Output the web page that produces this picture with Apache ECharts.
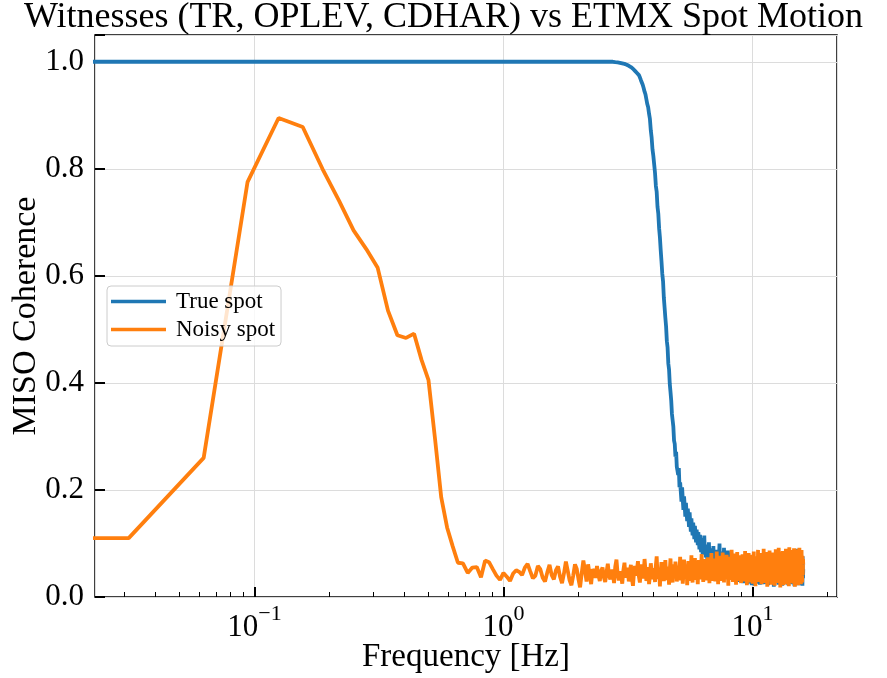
<!DOCTYPE html>
<html><head><meta charset="utf-8">
<script src="https://cdn.jsdelivr.net/npm/echarts@6/dist/echarts.min.js"></script>
<style>html,body{margin:0;padding:0;background:#fff}#c{width:887px;height:678px}</style>
</head><body><div id="c"></div>
<script>
// frequency resolution of the spectra [Hz]; sample k sits at k*DF
const DF = 1 / 32;
// stand-in frequency for the 0 Hz bin (0 cannot be drawn on a log axis; it is clipped off-axis)
const dcProxyFreq = 0.001;
const trueSpotDC = 1.0;
const noisySpotDC = 0.11;

// "True spot" coherence, samples k = 1..512
const trueSpot = [
1,1,1,1,1,1,1,1,1,1, 1,1,1,1,1,1,1,1,1,1, 1,1,1,1,1,1,1,1,1,1, 1,1,1,1,1,1,1,1,1,1,
1,1,1,1,1,1,1,1,1,1, 1,1,1,1,1,1,1,1,1,1, 1,1,1,1,1,1,1,1,1,1, 1,1,1,1,1,1,1,1,1,1,
1,1,1,1,1,1,1,
1.000,0.9995,0.9993,0.999,0.9988,0.9985,0.998,0.9975,0.997,
0.9965,0.996,0.995,0.9945,0.9935,0.9925,0.991,0.990,0.988,0.987,0.985,0.983,0.981,0.979,0.977,0.975,
0.971,0.966,0.963,0.957,0.951,0.944,0.939,0.930,0.921,0.915,0.903,0.893,0.872,0.858,0.836,0.824,
0.808,0.792,0.768,0.757,0.729,0.716,0.689,0.672,0.648,0.627,0.604,0.590,0.560,0.541,0.522,0.505,
0.478,0.466,0.436,0.425,0.398,0.383,0.367,0.342,0.330,0.318,0.292,0.286,0.262,0.271,0.243,0.236,
0.228,0.241,0.205,0.214,0.196,0.178,0.205,0.182,0.163,0.188,0.171,0.150,0.176,0.158,0.142,0.165,
0.149,0.131,0.158,0.140,0.122,0.147,0.128,0.115,0.139,0.124,0.108,0.133,0.117,0.102,0.126,0.113,
0.097,0.121,0.105,0.089,0.116,0.100,0.084,0.110,0.093,0.079,0.104,0.088,0.115,0.082,0.096,0.074,
0.098,0.083,0.069,0.094,0.078,0.102,0.072,0.087,0.063,0.091,0.076,0.060,0.085,0.070,0.095,0.066,
0.080,0.058,0.074,0.088,0.062,0.071,0.055,0.083,0.067,0.050,0.078,0.100,0.060,0.072,0.052,0.069,
0.085,0.057,0.048,0.074,0.063,0.092,0.054,0.045,0.070,0.061,0.039,0.078,0.056,0.047,0.087,0.052,
0.043,0.066,0.058,0.037,0.072,0.050,0.083,0.046,0.035,0.064,0.055,0.041,0.076,0.049,0.033,0.060,
0.052,0.079,0.040,0.030,0.063,0.047,0.071,0.038,0.056,0.028,0.067,0.045,0.035,0.074,0.043,0.053,
0.031,0.061,0.048,0.069,0.036,0.026,0.057,0.044,0.075,0.039,0.050,0.029,0.064,0.042,0.033,0.058,
0.046,0.024,0.067,0.037,0.053,0.030,0.071,0.041,0.027,0.056,0.048,0.035,0.062,0.022,0.044,0.051,
0.034,0.059,0.028,0.047,0.066,0.038,0.021,0.054,0.043,0.070,0.031,0.049,0.025,0.060,0.040,0.033,
0.057,0.029,0.045,0.068,0.036,0.052,0.023,0.041,0.063,0.032,0.048,0.074,0.027,0.055,0.038,0.046,
0.030,0.065,0.042,0.024,0.058,0.035,0.077,0.044,0.028,0.053,0.039,0.067,0.026,0.050,0.034,0.061,
0.043,0.022,0.056,0.037,0.072,0.031,0.048,0.060,0.025,0.045,0.081,0.036,0.054,0.029,0.066,0.040,
0.027,0.051,0.035,0.063,0.044,0.019,0.058,0.039,0.075,0.032,0.047,0.026,0.062,0.041,0.084,0.036,
0.053,0.028,0.068,0.042,0.031,0.057,0.023,0.046,0.071,0.037,0.055,0.030,0.079,0.043,0.025,0.061,
0.034,0.049,0.073,0.038,0.021,0.059,0.045,0.086,0.032,0.052,0.027,0.067,0.040,0.056,0.024,0.063,
0.047,0.033,0.078,0.041,0.058,0.026,0.070,0.044,0.030,0.089,0.050,0.036,0.064,0.022,0.054,0.039,
0.072,0.029,0.060,0.045,0.083,0.034,0.052,0.025,0.068,0.041,0.057,0.031,0.087,0.046,0.037,0.065,
0.024,0.055,0.042,0.076,0.033,0.061,0.048,0.020,0.070,0.038,0.082,0.044,0.029,0.063,0.051,0.035,
0.069,0.026,0.057,0.090,0.040,0.053,0.031,0.074,0.046,0.022,0.065,0.037,0.084,0.049,0.028,0.060,
0.043,0.079,0.034,0.056,0.025,0.088,0.047,0.039,0.068,0.030,0.058,0.021,0.076,0.045,0.035,0.052
];

// "Noisy spot" coherence, samples k = 1..512
const noisySpot = [
0.110,0.260,0.775,0.895,0.878,0.800,0.740,0.685,0.650,0.615,0.535,0.489,0.484,0.492,0.443,0.405,
0.295,0.186,0.130,0.095,0.064,0.063,0.045,0.055,0.056,0.037,0.068,0.065,0.052,0.040,0.032,0.045,
0.038,0.030,0.044,0.050,0.047,0.041,0.055,0.062,0.048,0.035,0.040,0.058,0.052,0.036,0.029,0.046,
0.060,0.041,0.033,0.050,0.057,0.038,0.026,0.044,0.066,0.049,0.031,0.022,0.040,0.061,0.053,0.034,
0.018,0.045,0.068,0.050,0.029,0.061,0.043,0.024,0.052,0.047,0.036,0.058,0.041,0.030,0.049,0.055,
0.037,0.028,0.046,0.062,0.040,0.033,0.051,0.044,0.026,0.057,0.070,0.043,0.031,0.048,0.039,0.025,
0.050,0.064,0.036,0.042,0.055,0.029,0.047,0.060,0.034,0.021,0.045,0.058,0.040,0.052,0.067,0.038,
0.027,0.049,0.061,0.035,0.044,0.071,0.050,0.030,0.041,0.056,0.024,0.039,0.063,0.048,0.033,0.054,
0.045,0.028,0.059,0.076,0.042,0.034,0.051,0.020,0.047,0.065,0.038,0.053,0.030,0.044,0.069,0.041,
0.032,0.057,0.046,0.023,0.050,0.072,0.039,0.048,0.027,0.061,0.044,0.035,0.066,0.052,0.029,0.043,
0.058,0.037,0.049,0.075,0.031,0.046,0.063,0.025,0.041,0.070,0.053,0.034,0.047,0.060,0.022,0.045,
0.067,0.039,0.054,0.030,0.048,0.078,0.043,0.027,0.059,0.036,0.050,0.073,0.032,0.046,0.062,0.040,
0.024,0.055,0.069,0.042,0.033,0.061,0.047,0.080,0.038,0.052,0.028,0.064,0.045,0.035,0.071,0.049,
0.031,0.058,0.043,0.074,0.036,0.050,0.026,0.066,0.053,0.040,0.082,0.044,0.030,0.060,0.047,0.037,
0.072,0.051,0.029,0.063,0.045,0.085,0.039,0.056,0.024,0.068,0.048,0.034,0.077,0.054,0.041,0.062,
0.030,0.049,0.083,0.044,0.058,0.027,0.070,0.052,0.036,0.065,0.043,0.079,0.033,0.057,0.046,0.021,
0.064,0.041,0.075,0.053,0.032,0.068,0.047,0.088,0.038,0.055,0.028,0.071,0.050,0.042,0.081,0.035,
0.059,0.045,0.023,0.067,0.052,0.084,0.037,0.061,0.044,0.030,0.073,0.056,0.040,0.078,0.048,0.026,
0.066,0.051,0.034,0.080,0.043,0.062,0.029,0.070,0.054,0.039,0.086,0.047,0.031,0.063,0.055,0.022,
0.072,0.044,0.058,0.035,0.082,0.050,0.027,0.067,0.041,0.074,0.053,0.030,0.060,0.046,0.079,0.038,
0.025,0.064,0.049,0.085,0.036,0.057,0.043,0.071,0.020,0.059,0.076,0.042,0.052,0.033,0.068,0.047,
0.088,0.039,0.061,0.028,0.073,0.054,0.045,0.082,0.031,0.066,0.050,0.024,0.077,0.043,0.058,0.035,
0.069,0.048,0.090,0.037,0.062,0.026,0.075,0.053,0.040,0.084,0.046,0.030,0.067,0.055,0.019,0.072,
0.044,0.081,0.051,0.034,0.065,0.047,0.087,0.029,0.060,0.042,0.074,0.056,0.023,0.070,0.049,0.038,
0.083,0.052,0.031,0.068,0.045,0.079,0.036,0.063,0.021,0.076,0.054,0.041,0.089,0.047,0.028,0.066,
0.058,0.035,0.080,0.050,0.026,0.071,0.044,0.092,0.039,0.061,0.032,0.075,0.053,0.018,0.069,0.046,
0.085,0.040,0.063,0.029,0.077,0.055,0.037,0.086,0.048,0.022,0.072,0.059,0.033,0.081,0.045,0.064,
0.027,0.074,0.051,0.090,0.038,0.060,0.024,0.079,0.047,0.066,0.031,0.084,0.056,0.042,0.073,0.020,
0.062,0.093,0.045,0.070,0.034,0.082,0.053,0.026,0.076,0.049,0.088,0.037,0.064,0.030,0.080,0.057,
0.041,0.087,0.025,0.068,0.052,0.091,0.036,0.072,0.048,0.019,0.083,0.060,0.039,0.078,0.054,0.028,
0.075,0.046,0.089,0.033,0.065,0.050,0.085,0.022,0.070,0.057,0.040,0.081,0.044,0.092,0.031,0.067,
0.053,0.086,0.035,0.074,0.024,0.063,0.048,0.088,0.038,0.069,0.027,0.077,0.051,0.041,0.071,0.060
];

const seriesNames = ['True spot', 'Noisy spot'];
const seriesColors = ['#1f77b4', '#ff7f0e'];
const xRange = [0.02288, 21.86];
const yRange = [0, 1.05];
const yTickStep = 0.2;
const xMinorTicks = [0.03,0.04,0.05,0.06,0.07,0.08,0.09,0.2,0.3,0.4,0.5,0.6,0.7,0.8,0.9,2,3,4,5,6,7,8,9,20];
const titleText = 'Witnesses (TR, OPLEV, CDHAR) vs ETMX Spot Motion';
const xName = 'Frequency [Hz]';
const yName = 'MISO Coherence';

const FONT = '"Liberation Serif", "DejaVu Serif", serif';

function toPairs(dc, arr) {
  const out = [[dcProxyFreq, dc]];
  arr.forEach((v, i) => out.push([(i + 1) * DF, v]));
  return out;
}

const chart = echarts.init(document.getElementById('c'), null, {renderer: 'canvas'});
chart.setOption({
  animation: false,
  backgroundColor: '#fff',
  title: {
    text: titleText, left: 'center', top: -5,
    textStyle: {fontFamily: FONT, fontSize: 36, fontWeight: 'normal', color: '#000'}
  },
  grid: {left: 95, right: 50, top: 35, bottom: 81, containLabel: false, outerBoundsMode: 'none',
         show: true, borderColor: '#000', borderWidth: 1.5, backgroundColor: 'transparent'},
  legend: {
    data: seriesNames.map(n => ({name: n, icon: 'rect'})),
    orient: 'vertical', left: 107, top: 286,
    itemWidth: 55, itemHeight: 3.5, itemGap: 5, padding: [4, 6, 5, 4],
    backgroundColor: 'rgba(255,255,255,0.8)', borderColor: '#cccccc', borderWidth: 1, borderRadius: 4,
    textStyle: {fontFamily: FONT, fontSize: 23, color: '#000', lineHeight: 22, padding: [0, 0, 0, 5]}
  },
  xAxis: [{
    type: 'log', logBase: 10, min: xRange[0], max: xRange[1],
    name: xName, nameLocation: 'middle', nameGap: 44, nameMoveOverlap: false,
    nameTextStyle: {fontFamily: FONT, fontSize: 33, color: '#000'},
    axisLine: {show: false},
    axisTick: {inside: true, length: 10, lineStyle: {color: '#000', width: 2}},
    splitLine: {show: true, lineStyle: {color: '#dcdcdc', width: 1}},
    axisLabel: {
      margin: 6, showMinLabel: false, showMaxLabel: false,
      formatter: function (v) {
        const e = Math.round(Math.log10(v));
        if (Math.abs(Math.log10(v) - e) > 1e-6) return '';
        const s = String(e).replace('-', '\u2212');
        return '{b|10}{s|' + s + '}';
      },
      rich: {
        b: {fontFamily: FONT, fontSize: 31, color: '#000'},
        s: {fontFamily: FONT, fontSize: 22, color: '#000', padding: [0, 0, 27, 0]}
      }
    }
  }, {
    type: 'log', logBase: 10, min: xRange[0], max: xRange[1], gridIndex: 0, position: 'bottom',
    axisLine: {show: false}, axisLabel: {show: false}, splitLine: {show: false},
    axisTick: {show: true, inside: true, length: 5, lineStyle: {color: '#000', width: 1}, customValues: xMinorTicks}
  }],
  yAxis: {
    type: 'value', min: yRange[0], max: yRange[1], interval: yTickStep,
    name: yName, nameLocation: 'middle', nameGap: 52, nameRotate: 90, nameMoveOverlap: false,
    nameTextStyle: {fontFamily: FONT, fontSize: 34, color: '#000'},
    axisLine: {show: false},
    axisTick: {inside: true, length: 10, lineStyle: {color: '#000', width: 2}},
    splitLine: {show: true, lineStyle: {color: '#dcdcdc', width: 1}},
    axisLabel: {
      margin: 11, fontFamily: FONT, fontSize: 31, color: '#000',
      formatter: function (v) {
        const r = v / yTickStep;
        return Math.abs(r - Math.round(r)) < 1e-6 ? v.toFixed(1) : '';
      }
    }
  },
  series: [
    {name: seriesNames[0], type: 'line', data: toPairs(trueSpotDC, trueSpot), symbol: 'none', showSymbol: false, clip: true,
     lineStyle: {color: seriesColors[0], width: 3.8}, itemStyle: {color: seriesColors[0]}, z: 2},
    {name: seriesNames[1], type: 'line', data: toPairs(noisySpotDC, noisySpot), symbol: 'none', showSymbol: false, clip: true,
     lineStyle: {color: seriesColors[1], width: 3.8}, itemStyle: {color: seriesColors[1]}, z: 3}
  ]
});
</script></body></html>
